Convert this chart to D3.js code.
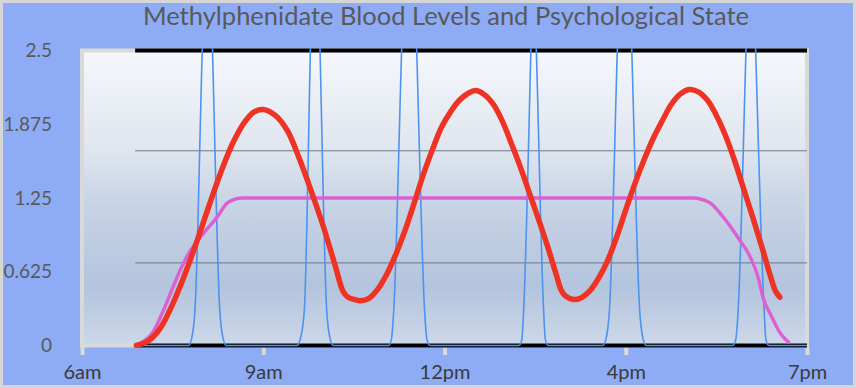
<!DOCTYPE html>
<html>
<head>
<meta charset="utf-8">
<script src="https://cdn.jsdelivr.net/npm/d3@7"></script>
<style>
  html, body { margin: 0; padding: 0; background: #ffffff; }
  svg { display: block; }
  .title { font-family: Lato, 'Open Sans', sans-serif; fill: #595959; }
  .axis text { font-family: Lato, 'Open Sans', sans-serif; }
</style>
</head>
<body>
<script>
// x runs on the chart's category axis: one unit per hour slot, 12 slots from 6am to 7pm
const timeLabels = ['6am', '9am', '12pm', '4pm', '7pm'];
const timeTicks = [0, 3, 6, 9, 12];
const levelTicks = [0, 0.625, 1.25, 1.875, 2.5];

// therapeutic window guide lines and the two bounding lines
const guideLevels = [0.7, 1.65];
const boundLevels = [0, 2.5];
const seriesRange = [0.88, 12];

// psychological state (red)
const stateX = [0.90, 1.10, 1.30, 1.50, 1.70, 1.90, 2.10, 2.30, 2.50, 2.70, 2.85, 3.00,
                3.20, 3.40, 3.60, 3.80, 4.00, 4.20, 4.32, 4.40, 4.50, 4.60, 4.75, 4.90,
                5.05, 5.20, 5.35, 5.50, 5.65, 5.80, 5.95, 6.10, 6.25, 6.40, 6.51, 6.65,
                6.80, 6.95, 7.10, 7.25, 7.40, 7.55, 7.70, 7.85, 7.93, 8.00, 8.13, 8.25,
                8.40, 8.55, 8.70, 8.85, 9.00, 9.15, 9.30, 9.45, 9.60, 9.75, 9.90, 10.05,
                10.20, 10.35, 10.50, 10.65, 10.80, 10.95, 11.10, 11.25, 11.40, 11.48, 11.55];
const stateY = [0.00, 0.04, 0.15, 0.35, 0.60, 0.88, 1.18, 1.47, 1.72, 1.90, 1.98, 2.00,
                1.95, 1.82, 1.58, 1.30, 1.00, 0.66, 0.46, 0.41, 0.39, 0.38, 0.40, 0.48,
                0.61, 0.78, 0.98, 1.21, 1.45, 1.66, 1.85, 1.98, 2.08, 2.14, 2.16, 2.13,
                2.05, 1.91, 1.72, 1.52, 1.30, 1.08, 0.85, 0.60, 0.47, 0.42, 0.39, 0.40,
                0.46, 0.57, 0.72, 0.92, 1.15, 1.37, 1.57, 1.75, 1.90, 2.04, 2.13, 2.17,
                2.15, 2.08, 1.95, 1.78, 1.57, 1.33, 1.09, 0.84, 0.58, 0.46, 0.41];

// methylphenidate blood level (pink)
const bloodX = [0.88, 0.97, 1.17, 1.35, 1.51, 1.68, 1.83, 2.01, 2.24, 2.41, 2.66, 10.11, 10.39, 10.61, 10.89, 11.06,
                11.19, 11.27, 11.42, 11.55, 11.71];
const bloodY = [0.00, 0.02, 0.11, 0.30, 0.50, 0.70, 0.83, 0.95, 1.09, 1.21, 1.25, 1.25, 1.21, 1.09, 0.89, 0.75,
                0.58, 0.41, 0.24, 0.11, 0.02];

// dosing pulses (blue)
const pulseX = [0.88,
                1.76, 1.81, 1.87, 1.99, 2.08, 2.16, 2.28, 2.34, 2.39,
                3.56, 3.61, 3.68, 3.78, 3.86, 3.94, 4.05, 4.11, 4.16,
                5.07, 5.12, 5.16, 5.29, 5.42, 5.54, 5.67, 5.71, 5.76,
                7.23, 7.28, 7.31, 7.43, 7.47, 7.52, 7.64, 7.67, 7.72,
                8.62, 8.67, 8.73, 8.86, 8.98, 9.10, 9.23, 9.29, 9.34,
                10.77, 10.82, 10.86, 10.99, 11.07, 11.15, 11.29, 11.32, 11.37,
                12];
const pulseY = [0,
                0, 0.05, 0.3, 2.5, 4.0, 2.5, 0.3, 0.05, 0,
                0, 0.05, 0.3, 2.5, 4.3, 2.5, 0.3, 0.05, 0,
                0, 0.05, 0.3, 2.5, 4.6, 2.5, 0.3, 0.05, 0,
                0, 0.05, 0.3, 2.5, 3.3, 2.5, 0.3, 0.05, 0,
                0, 0.05, 0.3, 2.5, 4.6, 2.5, 0.3, 0.05, 0,
                0, 0.05, 0.3, 2.5, 3.9, 2.5, 0.3, 0.05, 0,
                0];

const w = 856;
const h = 388;
const plot = { left: 82, right: 807, top: 50.5, bottom: 345.5 };

const svg = d3.select('body')
              .append('svg')
              .attr('width', w)
              .attr('height', h);

const x = d3.scaleLinear()
            .domain([0, 12])
            .range([plot.left, plot.right]);

const y = d3.scaleLinear()
            .domain([0, 2.5])
            .range([plot.bottom, plot.top]);

const defs = svg.append('defs');
const grad = defs.append('linearGradient')
                 .attr('id', 'plot-bg')
                 .attr('x1', 0).attr('y1', 0)
                 .attr('x2', 0).attr('y2', 1);
[[0, '#f5f7fb'], [0.33, '#e0e6ef'], [0.5, '#cad5e6'], [0.8, '#b3c4dd'], [1, '#cdd8e9']].forEach(s => {
  grad.append('stop').attr('offset', s[0]).attr('stop-color', s[1]);
});

defs.append('clipPath')
    .attr('id', 'clip')
    .append('rect')
    .attr('x', plot.left)
    .attr('y', plot.top - 2.5)
    .attr('width', plot.right - plot.left)
    .attr('height', plot.bottom - plot.top + 5);

// chart background and outer border
svg.append('rect')
   .attr('x', 1.5).attr('y', 1.5)
   .attr('width', w - 3).attr('height', h - 3)
   .attr('fill', '#8eabf5')
   .attr('stroke', '#d6d6d6')
   .attr('stroke-width', 3);

// plot area with its light grey frame
svg.append('rect')
   .attr('x', plot.left).attr('y', plot.top)
   .attr('width', plot.right - plot.left)
   .attr('height', plot.bottom - plot.top)
   .attr('fill', 'url(#plot-bg)')
   .attr('stroke', '#d9d9d9')
   .attr('stroke-width', 4);

svg.append('text')
   .attr('class', 'title')
   .attr('x', 446)
   .attr('y', 25)
   .attr('text-anchor', 'middle')
   .style('font-size', '25.5px')
   .text('Methylphenidate Blood Levels and Psychological State');

// y axis: labels only
const yAxis = d3.axisLeft(y)
                .tickValues(levelTicks)
                .tickFormat(d => String(d))
                .tickSize(0)
                .tickPadding(3);

const gy = svg.append('g')
              .attr('class', 'axis')
              .attr('transform', 'translate(55,0)')
              .call(yAxis);
gy.select('.domain').remove();
gy.selectAll('text')
  .style('font-size', '19px')
  .attr('fill', '#595959');

// x axis: grey stub ticks under the frame and the time labels
const xAxis = d3.axisBottom(x)
                .tickValues(timeTicks)
                .tickFormat((d, i) => timeLabels[i])
                .tickSize(8)
                .tickPadding(10);

const gx = svg.append('g')
              .attr('class', 'axis')
              .attr('transform', 'translate(0,' + (plot.bottom + 1.5) + ')')
              .call(xAxis);
gx.select('.domain').remove();
gx.selectAll('line')
  .attr('stroke', '#d9d9d9')
  .attr('stroke-width', 4);
gx.selectAll('text')
  .style('font-size', '20px')
  .attr('fill', '#3a3a3a');

// guide lines
svg.selectAll('.guide')
   .data(guideLevels)
   .enter()
   .append('line')
   .attr('class', 'guide')
   .attr('x1', x(seriesRange[0]))
   .attr('x2', x(seriesRange[1]))
   .attr('y1', d => y(d))
   .attr('y2', d => y(d))
   .attr('stroke', '#6f7887')
   .attr('stroke-width', 1);

// black bounding lines at 0 and 2.5
svg.selectAll('.bound')
   .data(boundLevels)
   .enter()
   .append('line')
   .attr('class', 'bound')
   .attr('x1', x(seriesRange[0]))
   .attr('x2', x(seriesRange[1]))
   .attr('y1', d => y(d))
   .attr('y2', d => y(d))
   .attr('stroke', '#000000')
   .attr('stroke-width', 4);

const zip = (xs, ys) => xs.map((v, i) => [v, ys[i]]);

const line = d3.line()
               .x(d => x(d[0]))
               .y(d => y(d[1]))
               .curve(d3.curveMonotoneX);

const smooth = d3.line()
                 .x(d => x(d[0]))
                 .y(d => y(d[1]))
                 .curve(d3.curveCatmullRom.alpha(0.5));

const lines = svg.append('g').attr('clip-path', 'url(#clip)');

lines.append('path')
     .datum(zip(pulseX, pulseY))
     .attr('d', line)
     .attr('fill', 'none')
     .attr('stroke', '#4d93f1')
     .attr('stroke-width', 1.6);

lines.append('path')
     .datum(zip(bloodX, bloodY))
     .attr('d', line)
     .attr('fill', 'none')
     .attr('stroke', '#de5fd4')
     .attr('stroke-width', 3.4)
     .attr('stroke-linejoin', 'round');

lines.append('path')
     .datum(zip(stateX, stateY))
     .attr('d', smooth)
     .attr('fill', 'none')
     .attr('stroke', '#ee3325')
     .attr('stroke-width', 5.5)
     .attr('stroke-linecap', 'round')
     .attr('stroke-linejoin', 'round');
</script>
</body>
</html>
